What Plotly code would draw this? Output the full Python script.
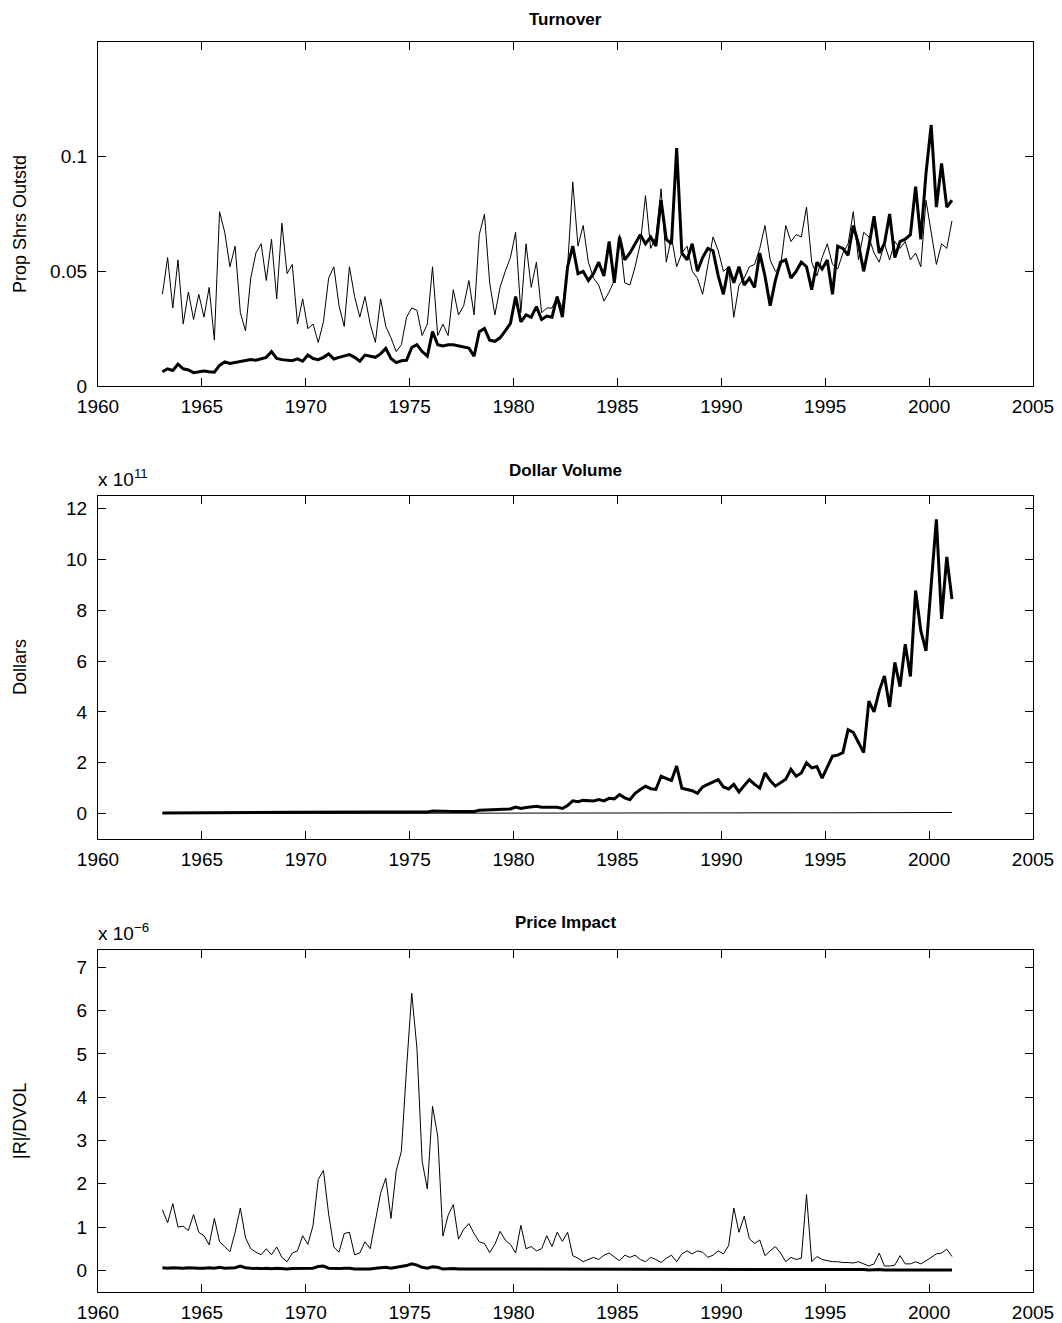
import numpy as np
import plotly.graph_objects as go

# ---------------- data (quarterly readings, first point 1963.1) ----------------
START_YEAR = 1963.1
STEP_YEARS = 0.25

turnover_thin = [
    0.040, 0.056, 0.034, 0.055,
    0.027, 0.041, 0.029, 0.040,
    0.030, 0.043, 0.020, 0.076,
    0.067, 0.052, 0.061, 0.032,
    0.024, 0.047, 0.058, 0.062,
    0.046, 0.064, 0.038, 0.071,
    0.049, 0.053, 0.027, 0.038,
    0.025, 0.027, 0.019, 0.028,
    0.047, 0.052, 0.035, 0.026,
    0.052, 0.039, 0.030, 0.039,
    0.027, 0.019, 0.038, 0.026,
    0.021, 0.015, 0.018, 0.030,
    0.034, 0.033, 0.022, 0.027,
    0.052, 0.022, 0.027, 0.022,
    0.042, 0.031, 0.035, 0.046,
    0.031, 0.066, 0.075, 0.045,
    0.031, 0.043, 0.050, 0.056,
    0.067, 0.032, 0.062, 0.043,
    0.054, 0.032, 0.034, 0.034,
    0.039, 0.034, 0.052, 0.089,
    0.061, 0.070, 0.054, 0.047,
    0.044, 0.037, 0.041, 0.046,
    0.066, 0.045, 0.044, 0.052,
    0.062, 0.083, 0.060, 0.065,
    0.086, 0.054, 0.065, 0.052,
    0.058, 0.061, 0.050, 0.047,
    0.040, 0.052, 0.065, 0.059,
    0.050, 0.052, 0.030, 0.044,
    0.047, 0.052, 0.053, 0.060,
    0.070, 0.055, 0.050, 0.052,
    0.070, 0.063, 0.066, 0.065,
    0.078, 0.054, 0.048, 0.056,
    0.062, 0.053, 0.051, 0.058,
    0.062, 0.076, 0.055, 0.067,
    0.065, 0.058, 0.054, 0.062,
    0.055, 0.063, 0.060, 0.063,
    0.055, 0.058, 0.052, 0.081,
    0.066, 0.053, 0.062, 0.060,
    0.072,
]

turnover_thick = [
    0.0062, 0.0075, 0.0068, 0.0095,
    0.0075, 0.0070, 0.0058, 0.0062,
    0.0065, 0.0062, 0.0060, 0.0090,
    0.0105, 0.0098, 0.0102, 0.0108,
    0.0110, 0.0115, 0.0112, 0.0120,
    0.0125, 0.0150, 0.0120, 0.0115,
    0.0112, 0.0110, 0.0118, 0.0108,
    0.0135, 0.0120, 0.0115, 0.0125,
    0.0140, 0.0118, 0.0125, 0.0130,
    0.0137, 0.0125, 0.0108, 0.0135,
    0.0130, 0.0125, 0.0140, 0.0164,
    0.0120, 0.0102, 0.0110, 0.0112,
    0.0168, 0.0180, 0.0150, 0.0130,
    0.0237, 0.0180, 0.0175, 0.0180,
    0.0180, 0.0175, 0.0170, 0.0165,
    0.0130, 0.0237, 0.0251, 0.0200,
    0.0195, 0.0210, 0.0240, 0.0273,
    0.0390, 0.0280, 0.0310, 0.0300,
    0.0346, 0.0290, 0.0305, 0.0300,
    0.0390, 0.0300, 0.0520, 0.0610,
    0.0490, 0.0500, 0.0460, 0.0490,
    0.0540, 0.0480, 0.0630, 0.0450,
    0.0650, 0.0550, 0.0580, 0.0620,
    0.0660, 0.0620, 0.0650, 0.0610,
    0.0810, 0.0640, 0.0620, 0.1037,
    0.0580, 0.0550, 0.0620, 0.0500,
    0.0560, 0.0600, 0.0590, 0.0480,
    0.0400, 0.0520, 0.0450, 0.0520,
    0.0440, 0.0470, 0.0430, 0.0580,
    0.0480, 0.0350, 0.0460, 0.0540,
    0.0550, 0.0470, 0.0500, 0.0540,
    0.0520, 0.0420, 0.0540, 0.0510,
    0.0550, 0.0400, 0.0610, 0.0600,
    0.0570, 0.0700, 0.0620, 0.0500,
    0.0610, 0.0740, 0.0580, 0.0620,
    0.0750, 0.0560, 0.0630, 0.0640,
    0.0660, 0.0869, 0.0640, 0.0927,
    0.1138, 0.0780, 0.0970, 0.0780,
    0.0810,
]

# Dollar volume, in units of 1e11 dollars
dollar_volume_thick_e11 = [
    0.020, 0.022, 0.021, 0.025,
    0.025, 0.026, 0.024, 0.028,
    0.030, 0.029, 0.028, 0.038,
    0.042, 0.040, 0.038, 0.040,
    0.045, 0.050, 0.052, 0.056,
    0.060, 0.070, 0.062, 0.062,
    0.060, 0.055, 0.050, 0.052,
    0.050, 0.045, 0.048, 0.060,
    0.070, 0.066, 0.060, 0.065,
    0.070, 0.072, 0.066, 0.072,
    0.066, 0.060, 0.060, 0.062,
    0.050, 0.042, 0.040, 0.042,
    0.060, 0.072, 0.062, 0.060,
    0.100, 0.090, 0.088, 0.092,
    0.082, 0.080, 0.078, 0.086,
    0.080, 0.130, 0.140, 0.120,
    0.130, 0.140, 0.160, 0.180,
    0.260, 0.200, 0.240, 0.280,
    0.290, 0.250, 0.240, 0.240,
    0.250, 0.200, 0.320, 0.500,
    0.470, 0.520, 0.500, 0.500,
    0.550, 0.500, 0.600, 0.580,
    0.750, 0.620, 0.550, 0.800,
    0.950, 1.080, 0.980, 0.950,
    1.470, 1.400, 1.300, 1.870,
    1.000, 0.950, 0.900, 0.800,
    1.050, 1.150, 1.250, 1.340,
    1.050, 0.970, 1.150, 0.850,
    1.100, 1.340, 1.150, 1.000,
    1.600, 1.300, 1.080, 1.200,
    1.350, 1.740, 1.470, 1.600,
    2.000, 1.800, 1.850, 1.400,
    1.800, 2.260, 2.300, 2.400,
    3.300, 3.200, 2.800, 2.400,
    4.430, 4.000, 4.830, 5.420,
    4.200, 5.950, 5.000, 6.670,
    5.400, 8.780, 7.200, 6.400,
    9.000, 11.580, 7.660, 10.100,
    8.440,
]

dollar_volume_thin_e11 = [
    0.004, 0.004, 0.004, 0.005,
    0.005, 0.005, 0.005, 0.005,
    0.005, 0.005, 0.005, 0.006,
    0.006, 0.006, 0.006, 0.006,
    0.006, 0.007, 0.007, 0.007,
    0.007, 0.008, 0.007, 0.007,
    0.007, 0.007, 0.006, 0.006,
    0.006, 0.006, 0.006, 0.007,
    0.007, 0.007, 0.007, 0.007,
    0.008, 0.008, 0.008, 0.008,
    0.007, 0.007, 0.007, 0.007,
    0.006, 0.005, 0.005, 0.005,
    0.006, 0.007, 0.007, 0.007,
    0.008, 0.008, 0.008, 0.008,
    0.008, 0.008, 0.008, 0.008,
    0.008, 0.009, 0.010, 0.009,
    0.010, 0.010, 0.011, 0.011,
    0.012, 0.011, 0.012, 0.013,
    0.013, 0.012, 0.012, 0.012,
    0.012, 0.011, 0.013, 0.015,
    0.015, 0.016, 0.016, 0.016,
    0.016, 0.016, 0.017, 0.017,
    0.018, 0.018, 0.018, 0.019,
    0.020, 0.021, 0.021, 0.021,
    0.023, 0.023, 0.022, 0.024,
    0.020, 0.020, 0.020, 0.020,
    0.021, 0.022, 0.022, 0.023,
    0.022, 0.022, 0.022, 0.021,
    0.022, 0.023, 0.023, 0.023,
    0.025, 0.025, 0.025, 0.025,
    0.026, 0.027, 0.027, 0.027,
    0.028, 0.028, 0.028, 0.027,
    0.028, 0.030, 0.030, 0.031,
    0.033, 0.034, 0.033, 0.033,
    0.036, 0.036, 0.038, 0.040,
    0.038, 0.041, 0.040, 0.042,
    0.042, 0.045, 0.044, 0.043,
    0.046, 0.048, 0.044, 0.045,
    0.044,
]

# Price impact |R|/DVOL, in units of 1e-6
price_impact_thin_e6 = [
    1.40, 1.10, 1.54, 1.00,
    1.02, 0.92, 1.29, 0.88,
    0.80, 0.59, 1.20, 0.66,
    0.55, 0.43, 0.88, 1.44,
    0.75, 0.50, 0.42, 0.36,
    0.50, 0.36, 0.54, 0.30,
    0.20, 0.40, 0.45, 0.80,
    0.60, 1.04, 2.10, 2.31,
    1.30, 0.54, 0.42, 0.85,
    0.88, 0.36, 0.40, 0.66,
    0.50, 1.18, 1.78, 2.13,
    1.20, 2.29, 2.75, 4.67,
    6.40, 5.13, 2.52, 1.88,
    3.79, 3.10, 0.79, 1.27,
    1.52, 0.72, 0.95, 1.08,
    0.85, 0.66, 0.62, 0.41,
    0.60, 0.90, 0.70, 0.60,
    0.40, 1.04, 0.50, 0.55,
    0.45, 0.50, 0.80, 0.55,
    0.88, 0.67, 0.88, 0.34,
    0.28, 0.20, 0.25, 0.30,
    0.25, 0.35, 0.40, 0.30,
    0.22, 0.35, 0.30, 0.35,
    0.25, 0.20, 0.30, 0.25,
    0.18, 0.28, 0.35, 0.20,
    0.38, 0.45, 0.38, 0.45,
    0.42, 0.30, 0.35, 0.45,
    0.38, 0.57, 1.44, 0.88,
    1.25, 0.73, 0.62, 0.70,
    0.34, 0.45, 0.55, 0.40,
    0.20, 0.30, 0.25, 0.28,
    1.75, 0.20, 0.32, 0.25,
    0.22, 0.20, 0.20, 0.18,
    0.18, 0.17, 0.20, 0.15,
    0.10, 0.15, 0.40, 0.10,
    0.10, 0.12, 0.34, 0.15,
    0.15, 0.20, 0.15, 0.22,
    0.30, 0.38, 0.40, 0.49,
    0.32,
]

price_impact_thick_e6 = [
    0.06, 0.05, 0.06, 0.05,
    0.05, 0.06, 0.05, 0.05,
    0.05, 0.06, 0.05, 0.07,
    0.05, 0.05, 0.06, 0.10,
    0.06, 0.05, 0.04, 0.04,
    0.05, 0.04, 0.05, 0.04,
    0.03, 0.04, 0.04, 0.05,
    0.04, 0.05, 0.09, 0.10,
    0.05, 0.04, 0.04, 0.05,
    0.05, 0.03, 0.03, 0.04,
    0.03, 0.05, 0.06, 0.07,
    0.05, 0.07, 0.08, 0.11,
    0.15, 0.12, 0.07, 0.05,
    0.08, 0.07, 0.03, 0.04,
    0.04, 0.03, 0.03, 0.03,
    0.03, 0.03, 0.03, 0.02,
    0.03, 0.03, 0.03, 0.03,
    0.02, 0.03, 0.02, 0.02,
    0.02, 0.02, 0.03, 0.02,
    0.03, 0.02, 0.02, 0.02,
    0.02, 0.02, 0.02, 0.02,
    0.02, 0.02, 0.02, 0.02,
    0.02, 0.02, 0.02, 0.02,
    0.02, 0.02, 0.02, 0.02,
    0.02, 0.02, 0.02, 0.02,
    0.02, 0.02, 0.02, 0.02,
    0.02, 0.02, 0.02, 0.02,
    0.02, 0.02, 0.03, 0.02,
    0.03, 0.02, 0.02, 0.02,
    0.02, 0.02, 0.02, 0.02,
    0.02, 0.02, 0.02, 0.02,
    0.02, 0.02, 0.02, 0.02,
    0.02, 0.02, 0.02, 0.02,
    0.02, 0.02, 0.02, 0.02,
    0.01, 0.02, 0.02, 0.01,
    0.01, 0.01, 0.02, 0.01,
    0.01, 0.01, 0.01, 0.01,
    0.01, 0.01, 0.01, 0.01,
    0.01,
]

panel_titles = ["Turnover", "Dollar Volume", "Price Impact"]
y_labels = ["Prop Shrs Outstd", "Dollars", "|R|/DVOL"]
x_tick_values = [1960, 1965, 1970, 1975, 1980, 1985, 1990, 1995, 2000, 2005]
y_tick_values = [[0, 0.05, 0.1], [0, 2, 4, 6, 8, 10, 12], [0, 1, 2, 3, 4, 5, 6, 7]]
y_tick_text = [["0", "0.05", "0.1"],
               ["0", "2", "4", "6", "8", "10", "12"],
               ["0", "1", "2", "3", "4", "5", "6", "7"]]
y_ranges = [[0, 0.15], [-1, 12.5], [-0.5, 7.4]]
exponent_labels = [None, "x 10<sup>11</sup>", "x 10<sup>\u22126</sup>"]


def dates(series):
    return START_YEAR + STEP_YEARS * np.arange(len(series))


# ---------------- figure ----------------
W, H = 1062, 1323
FONT = "Liberation Sans, Arial, Helvetica, sans-serif"
x_dom = [98 / W, 1033 / W]
panel_px = [(42, 386), (496, 839), (950, 1292)]  # top, bottom in pixels
title_px = [20, 470, 922]
ylabel_px = [224, 667, 1121]
y_doms = [[1 - b / H, 1 - t / H] for (t, b) in panel_px]

fig = go.Figure()

series_pairs = [
    (turnover_thin, turnover_thick),
    (dollar_volume_thin_e11, dollar_volume_thick_e11),
    (price_impact_thin_e6, price_impact_thick_e6),
]

for i, (thin, thick) in enumerate(series_pairs):
    xa = "x" if i == 0 else f"x{i + 1}"
    ya = "y" if i == 0 else f"y{i + 1}"
    fig.add_trace(go.Scatter(x=dates(thin), y=thin, mode="lines",
                             line=dict(color="black", width=1),
                             xaxis=xa, yaxis=ya, hoverinfo="skip"))
    fig.add_trace(go.Scatter(x=dates(thick), y=thick, mode="lines",
                             line=dict(color="black", width=3),
                             xaxis=xa, yaxis=ya, hoverinfo="skip"))

axis_common = dict(showline=True, linecolor="black", linewidth=1.2,
                   mirror="ticks", ticks="inside", ticklen=8, tickwidth=1,
                   tickcolor="black", showgrid=False, zeroline=False,
                   automargin=False,
                   tickfont=dict(family=FONT, size=19, color="black"))

layout = dict(width=W, height=H, margin=dict(l=0, r=0, t=0, b=0, autoexpand=False),
              paper_bgcolor="white", plot_bgcolor="white", showlegend=False)

annotations = []
for i in range(3):
    xk = "xaxis" if i == 0 else f"xaxis{i + 1}"
    yk = "yaxis" if i == 0 else f"yaxis{i + 1}"
    ya = "y" if i == 0 else f"y{i + 1}"
    xa = "x" if i == 0 else f"x{i + 1}"
    layout[xk] = dict(axis_common, domain=x_dom, anchor=ya, range=[1960, 2005],
                      tickvals=x_tick_values, ticklabelstandoff=3)
    layout[yk] = dict(axis_common, domain=y_doms[i], anchor=xa, range=y_ranges[i],
                      tickvals=y_tick_values[i], ticktext=y_tick_text[i],
                      ticklabelstandoff=6)
    top_px, bot_px = panel_px[i]
    # panel title
    annotations.append(dict(text=f"<b>{panel_titles[i]}</b>", xref="paper", yref="paper",
                            x=(x_dom[0] + x_dom[1]) / 2, y=1 - title_px[i] / H,
                            xanchor="center", yanchor="middle", showarrow=False,
                            font=dict(family=FONT, size=17, color="black")))
    # y label
    annotations.append(dict(text=y_labels[i], xref="paper", yref="paper",
                            x=20 / W, y=1 - ylabel_px[i] / H,
                            xanchor="center", yanchor="middle", textangle=-90,
                            showarrow=False,
                            font=dict(family=FONT, size=18, color="black")))
    if exponent_labels[i]:
        annotations.append(dict(text=exponent_labels[i], xref="paper", yref="paper",
                                x=96 / W, y=1 - (top_px - 4) / H,
                                xanchor="left", yanchor="bottom", showarrow=False,
                                font=dict(family=FONT, size=19, color="black")))

layout["annotations"] = annotations
fig.update_layout(**layout)

fig.write_html("out.html")
